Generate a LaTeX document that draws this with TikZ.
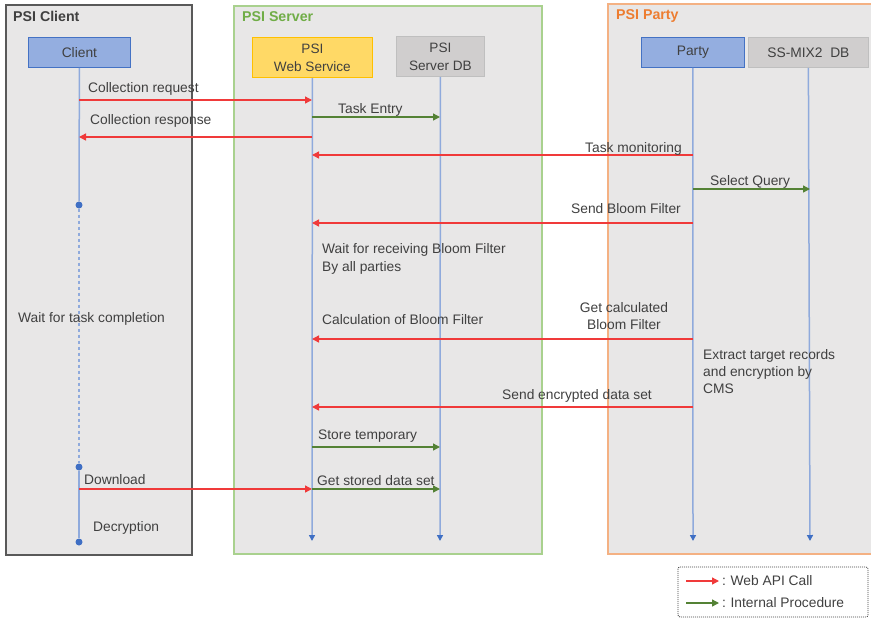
\documentclass[tikz,border=0pt]{standalone}
\usepackage{fontspec}
\setmainfont{Liberation Sans}
\usetikzlibrary{arrows.meta}
\definecolor{boxfill}{HTML}{E8E7E7}
\definecolor{clientborder}{HTML}{595959}
\definecolor{servergreen}{HTML}{A9D18E}
\definecolor{servertitle}{HTML}{70AD47}
\definecolor{partyorange}{HTML}{F4B183}
\definecolor{partytitle}{HTML}{ED7D31}
\definecolor{bluefill}{HTML}{94AEE0}
\definecolor{blueborder}{HTML}{4472C4}
\definecolor{yelfill}{HTML}{FFD966}
\definecolor{yelborder}{HTML}{FFC000}
\definecolor{greyfill}{HTML}{D0CECE}
\definecolor{greyborder}{HTML}{BFBFBF}
\definecolor{lifeblue}{HTML}{8FAADC}
\definecolor{dotblue}{HTML}{3F6FC4}
\definecolor{msgred}{HTML}{F03A3A}
\definecolor{msggreen}{HTML}{548235}
\definecolor{txt}{HTML}{404040}
\tikzset{
  x=1pt, y=-1pt,
  every node/.style={font=\fontsize{13.8}{17}\selectfont, text=txt},
  grp/.style={fill=boxfill, line width=1.2pt},
  grptitle/.style={anchor=north west, font=\fontsize{14.2}{16}\selectfont\bfseries, inner sep=0pt},
  actor/.style={anchor=north west, minimum height=30pt, inner sep=1pt, align=center, line width=0.8pt},
  bluebox/.style={actor, fill=bluefill, draw=blueborder},
  yelbox/.style={actor, fill=yelfill, draw=yelborder},
  greybox/.style={actor, fill=greyfill, draw=greyborder},
  life/.style={draw=lifeblue, line width=1.5pt},
  lifetip/.style={life, -{Triangle[length=6pt,width=6pt,color=dotblue]}},
  api/.style={draw=msgred, line width=1.4pt, -{Triangle[length=7pt,width=7pt]}},
  internal/.style={draw=msggreen, line width=1.4pt, -{Triangle[length=7pt,width=7pt]}},
  lbl/.style={inner sep=0pt, anchor=base west},
  lblr/.style={inner sep=0pt, anchor=base east},
  dot/.style={circle, fill=dotblue, inner sep=0pt, minimum size=7pt},
}
\begin{document}
\begin{tikzpicture}
\useasboundingbox (0,0) rectangle (871,619);
% groups
\draw[grp, draw=clientborder] (6,5) rectangle (192,555);
\draw[grp, draw=servergreen] (234,6) rectangle (542,554);
\draw[grp, draw=partyorange] (608,4) rectangle (880,554);
\node[grptitle] (tclient) at (13,11) {PSI Client};
\node[grptitle, text=servertitle] (tserver) at (242,11) {PSI Server};
\node[grptitle, text=partytitle] (tparty) at (616,9) {PSI Party};
% actors
\node[bluebox, minimum width=102pt] (client) at (28,37) {Client};
\node[yelbox, minimum width=120pt, minimum height=40pt, font=\fontsize{13.6}{18}\selectfont] (ws) at (252,37) {PSI\\Web Service};
\node[greybox, minimum width=88pt, minimum height=40pt, font=\fontsize{13.6}{18}\selectfont] (sdb) at (396,36) {PSI\\Server DB};
\node[bluebox, minimum width=103pt] (party) at (641,37) {Party};
\node[greybox, minimum width=120pt] (ssdb) at (748,37) {SS-MIX2\ \ DB};
% lifeline end points
\coordinate (wsend) at (312,541);
\coordinate (sdbend) at (440,541);
\coordinate (partyend) at (693,541);
\coordinate (ssdbend) at (810,541);
\node[dot] (d1) at (79,205) {};
\node[dot] (d2) at (79,467) {};
\node[dot] (d3) at (79,542) {};
% lifelines
\draw[life] (client.south) -- (d1);
\draw[life, dash pattern=on 3pt off 3pt] (d1) -- (d2);
\draw[life] (d2) -- (d3);
\draw[lifetip] (ws.south) -- (wsend);
\draw[lifetip] (sdb.south) -- (sdbend);
\draw[lifetip] (party.south) -- (partyend);
\draw[lifetip] (ssdb.south) -- (ssdbend);
% message points
\coordinate (c100) at (79,100);   \coordinate (w100) at (312,100);
\coordinate (w137) at (312,137);  \coordinate (c137) at (79,137);
\coordinate (w117) at (312,117);  \coordinate (s117) at (440,117);
\coordinate (p155) at (693,155);  \coordinate (w155) at (312,155);
\coordinate (p189) at (693,189);  \coordinate (m189) at (810,189);
\coordinate (p223) at (693,223);  \coordinate (w223) at (312,223);
\coordinate (p339) at (693,339);  \coordinate (w339) at (312,339);
\coordinate (p407) at (693,407);  \coordinate (w407) at (312,407);
\coordinate (w447) at (312,447);  \coordinate (s447) at (440,447);
\coordinate (c489) at (79,489);   \coordinate (w489) at (312,489);
\coordinate (s489) at (440,489);
% messages
\draw[api] (c100) -- (w100);
\draw[api] (w137) -- (c137);
\draw[internal] (w117) -- (s117);
\draw[api] (p155) -- (w155);
\draw[internal] (p189) -- (m189);
\draw[api] (p223) -- (w223);
\draw[api] (p339) -- (w339);
\draw[api] (p407) -- (w407);
\draw[internal] (w447) -- (s447);
\draw[api] (c489) -- (w489);
\draw[internal] (w489) -- (s489);
% labels
\node[lbl] (l1) at (88,92) {Collection request};
\node[lbl] (l2) at (90,124) {Collection response};
\node[lbl] (l3) at (338,113) {Task Entry};
\node[lblr] (l4) at (682,152) {Task monitoring};
\node[lbl] (l5) at (710,185) {Select Query};
\node[lblr] (l6) at (681,213) {Send Bloom Filter};
\node[inner sep=0pt, anchor=north west, align=left, font=\fontsize{13.8}{18}\selectfont] (l7) at (322,243) {Wait for receiving Bloom Filter\\By all parties};
\node[lbl] (l8) at (322,324) {Calculation of Bloom Filter};
\node[inner sep=0pt, align=center, anchor=north, font=\fontsize{13.8}{17.5}\selectfont] (l9) at (624,302) {Get calculated\\Bloom Filter};
\node[inner sep=0pt, anchor=north west, align=left, font=\fontsize{13.8}{17}\selectfont] (l10) at (703,349) {Extract target records\\and encryption by\\CMS};
\node[lblr] (l11) at (652,399) {Send encrypted data set};
\node[lbl] (l12) at (318,439) {Store temporary};
\node[lbl] (l13) at (84,484) {Download};
\node[lbl] (l14) at (317,485) {Get stored data set};
\node[lbl] (l15) at (93,531) {Decryption};
\node[lbl] (l16) at (18,322) {Wait for task completion};
% legend
\draw[dash pattern=on 1pt off 1pt, draw=txt, line width=0.8pt, rounded corners=2pt] (678,567) rectangle (868,617);
\coordinate (la1) at (686,581); \coordinate (la2) at (719,581);
\coordinate (lb1) at (686,603); \coordinate (lb2) at (719,603);
\draw[api, line width=1.3pt] (la1) -- (la2);
\draw[internal, line width=1.3pt] (lb1) -- (lb2);
\node[inner sep=0pt, anchor=west] (leg1) at (722,581) {:\,\,Web API Call};
\node[inner sep=0pt, anchor=west] (leg2) at (722,603) {:\,\,Internal Procedure};
\end{tikzpicture}
\end{document}
